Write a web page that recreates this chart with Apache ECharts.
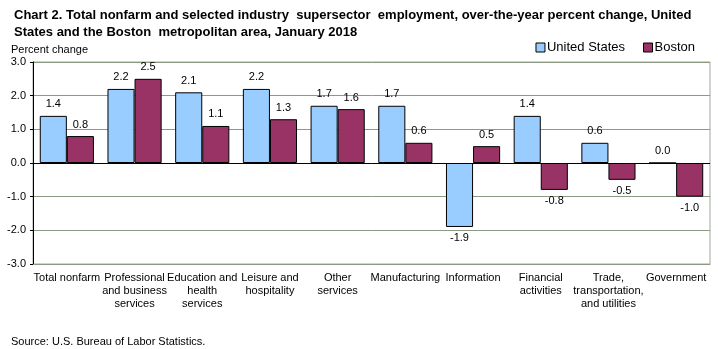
<!DOCTYPE html>
<html><head><meta charset="utf-8">
<script src="https://cdn.jsdelivr.net/npm/echarts@6/dist/echarts.min.js"></script>
<style>html,body{margin:0;padding:0;background:#fff}#c{width:718px;height:349px}</style>
</head><body><div id="c"></div>
<script>
const categories = ['Total nonfarm','Professional\nand business\nservices','Education and\nhealth\nservices','Leisure and\nhospitality','Other\nservices','Manufacturing','Information','Financial\nactivities','Trade,\ntransportation,\nand utilities','Government'];
const usValues = [1.4, 2.2, 2.1, 2.2, 1.7, 1.7, -1.9, 1.4, 0.6, 0.0];
const bostonValues = [0.8, 2.5, 1.1, 1.3, 1.6, 0.6, 0.5, -0.8, -0.5, -1.0];
const seriesNames = ['United States', 'Boston'];
const yTicks = [-3, -2, -1, 0, 1, 2, 3];

const FONT = '"Liberation Sans", Arial, sans-serif';
function mk(vals) {
  return vals.map(v => ({ value: v, label: { position: v < 0 ? 'bottom' : 'top' } }));
}
const labelStyle = { show: true, distance: 6, fontFamily: FONT, fontSize: 11, color: '#000', formatter: p => p.value.toFixed(1) };
const chart = echarts.init(document.getElementById('c'), null, { renderer: 'canvas' });
chart.setOption({
  animation: false,
  backgroundColor: '#fff',
  title: [
    { text: 'Chart 2. Total nonfarm and selected industry  supersector  employment, over-the-year percent change, United\nStates and the Boston  metropolitan area, January 2018', left: 9, top: 2, textStyle: { fontFamily: FONT, fontSize: 13, fontWeight: 'bold', color: '#000', lineHeight: 17 } },
    { text: 'Percent change', left: 6, top: 39, textStyle: { fontFamily: FONT, fontSize: 11, fontWeight: 'normal', color: '#000' } },
    { text: 'Source: U.S. Bureau of Labor Statistics.', left: 6, top: 331, textStyle: { fontFamily: FONT, fontSize: 11, fontWeight: 'normal', color: '#000' } }
  ],
  legend: {
    data: seriesNames, right: 18, top: 36, itemWidth: 9, itemHeight: 9, itemGap: 18,
    icon: 'rect', textStyle: { fontFamily: FONT, fontSize: 13, color: '#000', padding: [0, 0, 0, -3] },
    itemStyle: { borderColor: '#000', borderWidth: 1 }
  },
  grid: { left: 33, right: 8, top: 62, bottom: 85, show: true, borderColor: '#a0a8a0', borderWidth: 1 },
  xAxis: {
    type: 'category', data: categories,
    axisLine: { onZero: false, lineStyle: { color: '#8c9a84' } },
    axisTick: { show: false },
    axisLabel: { interval: 0, fontFamily: FONT, fontSize: 11, color: '#000', margin: 7, lineHeight: 13 }
  },
  yAxis: {
    type: 'value', min: yTicks[0], max: yTicks[yTicks.length - 1], interval: 1,
    axisLine: { show: true, lineStyle: { color: '#000' } },
    axisTick: { show: true, length: 3, lineStyle: { color: '#000' } },
    axisLabel: { fontFamily: FONT, fontSize: 11, color: '#000', margin: 7, formatter: v => v.toFixed(1) },
    splitLine: { show: true, lineStyle: { color: '#8c9a84', width: 1 } }
  },
  series: [
    { name: seriesNames[0], type: 'bar', data: mk(usValues), barGap: '0%', barCategoryGap: '20%',
      itemStyle: { color: '#99ccff', borderColor: '#000', borderWidth: 1 }, label: labelStyle,
      markLine: { silent: true, symbol: 'none', label: { show: false }, lineStyle: { color: '#000', width: 1, type: 'solid' }, data: [{ yAxis: 0 }] } },
    { name: seriesNames[1], type: 'bar', data: mk(bostonValues),
      itemStyle: { color: '#993366', borderColor: '#000', borderWidth: 1 }, label: labelStyle }
  ]
});
</script></body></html>
